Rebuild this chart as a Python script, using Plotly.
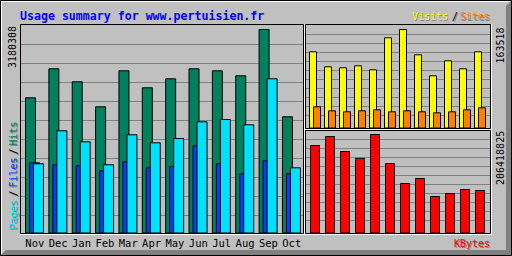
import plotly.graph_objects as go

# ---------------- data ----------------
months = ["Nov", "Dec", "Jan", "Feb", "Mar", "Apr", "May", "Jun", "Jul", "Aug", "Sep", "Oct"]
hits = [2112900, 2566100, 2363000, 1972300, 2534900, 2269200, 2409900, 2566100, 2534900, 2456700, 3180308, 1816000]
files = [1097100, 1065800, 1050200, 972100, 1112700, 1019000, 1039300, 1362800, 1081500, 925200, 1128300, 925200]
pages = [1081500, 1597200, 1425300, 1065800, 1534700, 1409600, 1476800, 1737800, 1773800, 1691000, 2409900, 1019000]
visits = [126500, 101600, 99940, 103260, 96620, 149740, 163518, 121520, 86660, 111560, 98280, 126500]
sites = [35190, 28550, 26890, 28550, 30210, 26890, 28550, 26890, 25230, 26890, 30210, 33530]
kbytes = [183367000, 202228000, 170793000, 156124000, 206418825, 145646000, 103733000, 114211000, 76490000, 82777000, 91160000, 89064000]

title_text = "Usage summary for www.pertuisien.fr"
max_hits_label = "3180308"
max_visits_label = "163518"
max_kbytes_label = "206418825"

# ---------------- helpers ----------------
W, H = 512, 256
def px(x):
    return x / W
def py(y):
    return 1 - y / H

MONO = "DejaVu Sans Mono"
C_HIT, C_FILE, C_PAGE = "#00805C", "#0040FF", "#00E0FF"
C_VISIT, C_SITE, C_KB = "#FFFF00", "#FF8000", "#FF0000"
BG, DK = "#C0C0C0", "#808080"

idx = list(range(len(months)))
mu = 23.36  # px per month slot in main panel
su = 15.0   # px per month slot in right panels

fig = go.Figure()
edge = dict(color="black", width=1)
fig.add_trace(go.Bar(x=idx, y=hits, width=10 / mu, offset=0, marker=dict(color=C_HIT, line=edge),
                     xaxis="x", yaxis="y", hoverinfo="skip"))
fig.add_trace(go.Bar(x=idx, y=files, width=10 / mu, offset=4 / mu, marker=dict(color=C_FILE, line=edge),
                     xaxis="x", yaxis="y", hoverinfo="skip"))
fig.add_trace(go.Bar(x=idx, y=pages, width=10 / mu, offset=8 / mu, marker=dict(color=C_PAGE, line=edge),
                     xaxis="x", yaxis="y", hoverinfo="skip"))
fig.add_trace(go.Bar(x=idx, y=visits, width=7 / su, offset=0, marker=dict(color=C_VISIT, line=edge),
                     xaxis="x2", yaxis="y2", hoverinfo="skip"))
fig.add_trace(go.Bar(x=idx, y=sites, width=7 / su, offset=4 / su, marker=dict(color=C_SITE, line=edge),
                     xaxis="x2", yaxis="y2", hoverinfo="skip"))
fig.add_trace(go.Bar(x=idx, y=kbytes, width=9 / su, offset=1 / su, marker=dict(color=C_KB, line=edge),
                     xaxis="x3", yaxis="y3", hoverinfo="skip"))

# ---------------- shapes ----------------
shapes = []
def line(x0, y0, x1, y1, color, layer="below"):
    shapes.append(dict(type="line", xref="paper", yref="paper", x0=px(x0), y0=py(y0), x1=px(x1), y1=py(y1),
                       line=dict(color=color, width=1), layer=layer))

def path(pts, color):
    d = "M " + " L ".join(f"{px(x):.6f},{py(y):.6f}" for x, y in pts) + " Z"
    shapes.append(dict(type="path", xref="paper", yref="paper", path=d, fillcolor=color,
                       line=dict(width=0), layer="below"))

# outer frame bevel
path([(511, 1), (511, 255), (1, 255), (6, 250), (506, 250), (506, 6)], DK)
line(1, 1.5, 510, 1.5, "white")
line(1.5, 1, 1.5, 254, "white")
shapes.append(dict(type="rect", xref="paper", yref="paper", x0=px(0.5), x1=px(511.5), y0=py(0.5), y1=py(255.5),
                   line=dict(color="black", width=1), layer="below"))

# grid lines
for r in [44, 63, 82, 101, 120, 139, 158, 177, 196, 215]:
    line(21, r + 0.5, 303, r + 0.5, DK)
for r in [34, 43, 52, 61, 70, 79, 88, 97, 106, 115]:
    line(306, r + 0.5, 490, r + 0.5, DK)
for r in [139, 148, 157, 166, 175, 184, 193, 202, 211, 220]:
    line(306, r + 0.5, 490, r + 0.5, DK)

# panel outlines
def panel(x0, y0, x1, y1):
    shapes.append(dict(type="rect", xref="paper", yref="paper", x0=px(x0 + 0.5), x1=px(x1 + 0.5),
                       y0=py(y0 + 0.5), y1=py(y1 + 0.5), line=dict(color="black", width=1), layer="above"))
    line(x1 + 1.5, y0 + 0.5, x1 + 1.5, y1 + 1.5, "white", "above")
    line(x0 + 0.5, y1 + 1.5, x1 + 1.5, y1 + 1.5, "white", "above")

panel(20, 24, 303, 233)
panel(305, 24, 490, 128)
panel(305, 130, 490, 233)

# ---------------- text ----------------
ann = []
def text(t, x, y, color, size=10, xanchor="center", yanchor="middle", angle=0, bold=False, shadow=True):
    fam = MONO
    s = f"<b>{t}</b>" if bold else t
    if shadow:
        ann.append(dict(text=s, x=px(x + 1), y=py(y + 1), xref="paper", yref="paper", showarrow=False,
                        xanchor=xanchor, yanchor=yanchor, textangle=angle, borderpad=0,
                        font=dict(family=fam, size=size, color=DK)))
    ann.append(dict(text=s, x=px(x), y=py(y), xref="paper", yref="paper", showarrow=False,
                    xanchor=xanchor, yanchor=yanchor, textangle=angle, borderpad=0,
                    font=dict(family=fam, size=size, color=color)))

text(title_text, 19, 15.5, "#0000FF", size=11.6, xanchor="left", bold=True, shadow=False)

# visits / sites legend
text("Visits", 411, 16.5, C_VISIT, xanchor="left")
text("/", 451, 16.5, "black", xanchor="left")
text("Sites", 459, 16.5, C_SITE, xanchor="left")
# kbytes legend
text("KBytes", 453, 243, C_KB, xanchor="left")
# pages / files / hits (vertical)
text("Pages", 12.5, 215, C_PAGE, angle=-90)
text("/", 12.5, 194, "black", angle=-90)
text("Files", 12.5, 173, C_FILE, angle=-90)
text("/", 12.5, 152, "black", angle=-90)
text("Hits", 12.5, 134, C_HIT, angle=-90)

# max labels
text(max_hits_label, 12.5, 47.5, "black", angle=-90, shadow=False)
text(max_visits_label, 500, 45.5, "black", angle=-90, shadow=False)
text(max_kbytes_label, 500, 158, "black", angle=-90, shadow=False)

r0m = -(25.5 - 21) / mu
r0s = -(309.5 - 306) / su

fig.update_layout(
    width=W, height=H, margin=dict(l=0, r=0, t=0, b=0, pad=0),
    paper_bgcolor=BG, plot_bgcolor="rgba(0,0,0,0)",
    barmode="overlay", bargap=0, showlegend=False,
    shapes=shapes, annotations=ann,
    xaxis=dict(domain=[px(21), px(303)], range=[r0m, r0m + 282 / mu], anchor="y",
               tickmode="array", tickvals=[i + 9.3 / mu for i in idx], ticktext=months,
               ticks="", showgrid=False, zeroline=False, showline=False, ticklabelstandoff=2,
               tickfont=dict(family=MONO, size=10.5, color="black"), fixedrange=True),
    yaxis=dict(domain=[py(233), py(25)], range=[0, 3180308 * 208 / 203.5], visible=False, fixedrange=True),
    xaxis2=dict(domain=[px(306), px(490)], range=[r0s, r0s + 184 / su], anchor="y2", visible=False, fixedrange=True),
    yaxis2=dict(domain=[py(128), py(25)], range=[0, 163518 * 103 / 98.5], anchor="x2", visible=False, fixedrange=True),
    xaxis3=dict(domain=[px(306), px(490)], range=[r0s, r0s + 184 / su], anchor="y3", visible=False, fixedrange=True),
    yaxis3=dict(domain=[py(233), py(131)], range=[0, 206418825 * 102 / 98.5], anchor="x3", visible=False, fixedrange=True),
)

fig.write_html("out.html", config={"displayModeBar": False, "staticPlot": True})
